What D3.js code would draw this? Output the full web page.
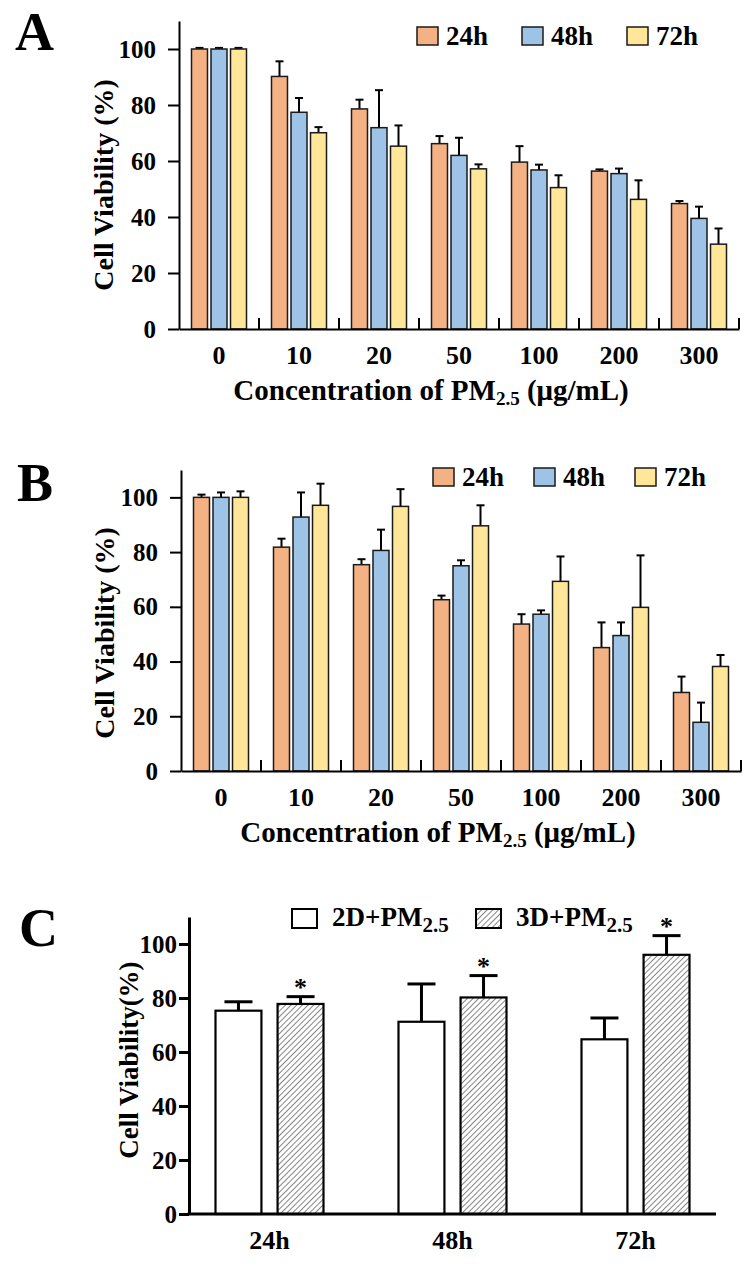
<!DOCTYPE html>
<html>
<head>
<meta charset="utf-8">
<script src="https://cdn.jsdelivr.net/npm/d3@7"></script>
<style>
  body { margin: 0; background: #fff; }
  svg text { font-family: "Liberation Serif", "Times New Roman", serif; font-weight: bold; fill: #000; }
</style>
</head>
<body>
<svg id="fig" width="750" height="1267"></svg>
<script>
// categories
var concentrations = ["0", "10", "20", "50", "100", "200", "300"];
var timepoints = ["24h", "48h", "72h"];
var cultures = ["2D", "3D"];
var yTicks = [0, 20, 40, 60, 80, 100];

// panel A: means and upper SD
var a24 = [100, 90.2, 78.6, 66.2, 59.6, 56.4, 44.8];
var a48 = [100, 77.4, 71.9, 62.0, 56.8, 55.5, 39.5];
var a72 = [100, 70.1, 65.3, 57.2, 50.5, 46.3, 30.3];
var a24err = [0.4, 5.4, 3.3, 2.7, 5.7, 0.6, 0.9];
var a48err = [0.4, 5.1, 13.4, 6.3, 1.9, 1.8, 4.2];
var a72err = [0.4, 2.0, 7.4, 1.6, 4.4, 6.8, 5.6];

// panel B
var b24 = [100, 81.8, 75.4, 62.6, 53.7, 45.1, 28.7];
var b48 = [100, 92.8, 80.6, 75.0, 57.3, 49.5, 17.8];
var b72 = [100, 97.1, 96.7, 89.6, 69.3, 59.8, 38.2];
var b24err = [1.0, 3.1, 2.0, 1.5, 3.6, 9.2, 5.8];
var b48err = [1.8, 9.0, 7.6, 2.0, 1.4, 4.8, 7.2];
var b72err = [2.2, 7.9, 6.3, 7.5, 9.1, 19.0, 4.2];

// panel C
var c2D = [75.3, 71.2, 64.7];
var c3D = [77.8, 80.2, 96.0];
var c2Derr = [3.3, 14.0, 7.9];
var c3Derr = [2.7, 8.1, 7.1];
var cSignif = [true, true, true];

var colors = { "24h": "#F4B183", "48h": "#9DC3E6", "72h": "#FFE699" };

var svg = d3.select("#fig");

var defs = svg.append("defs");
var hatch = defs.append("pattern")
  .attr("id", "hatch")
  .attr("patternUnits", "userSpaceOnUse")
  .attr("width", 4).attr("height", 4)
  .attr("patternTransform", "rotate(45)");
hatch.append("rect").attr("width", 4).attr("height", 4).attr("fill", "#fff");
hatch.append("line")
  .attr("x1", 0).attr("y1", 0).attr("x2", 0).attr("y2", 4)
  .attr("stroke", "#444").attr("stroke-width", 1.3);

function styleAxis(sel, width, fontSize) {
  sel.selectAll("path, line").attr("stroke", "#000").attr("stroke-width", width);
  sel.selectAll("text").style("font-size", fontSize + "px").attr("fill", "#000");
}

function groupedPanel(o) {
  var g = svg.append("g");
  var x = d3.scaleBand().domain(concentrations).range([o.x0, o.x1]);
  var xs = d3.scaleBand().domain(timepoints)
    .range([x.bandwidth() / 2 - 27.5, x.bandwidth() / 2 + 27.5])
    .paddingInner(0.18);
  var y = d3.scaleLinear().domain([0, 110]).range([o.base, o.top]);

  var rows = [];
  concentrations.forEach(function(c, i) {
    timepoints.forEach(function(t, j) {
      rows.push({ c: c, t: t, v: o.means[j][i], e: o.errs[j][i] });
    });
  });

  // error bars
  var eb = g.selectAll(".err").data(rows).enter().append("g")
    .attr("transform", function(d) { return "translate(" + (x(d.c) + xs(d.t) + xs.bandwidth() / 2) + ",0)"; });
  eb.append("line")
    .attr("y1", function(d) { return y(d.v); })
    .attr("y2", function(d) { return y(d.v + d.e); })
    .attr("stroke", "#000").attr("stroke-width", 2);
  eb.append("line")
    .attr("x1", -4).attr("x2", 4)
    .attr("y1", function(d) { return y(d.v + d.e); })
    .attr("y2", function(d) { return y(d.v + d.e); })
    .attr("stroke", "#000").attr("stroke-width", 2);

  g.selectAll(".bar").data(rows).enter().append("rect")
    .attr("x", function(d) { return x(d.c) + xs(d.t); })
    .attr("y", function(d) { return y(d.v); })
    .attr("width", xs.bandwidth())
    .attr("height", function(d) { return y(0) - y(d.v); })
    .attr("fill", function(d) { return colors[d.t]; })
    .attr("stroke", "#1a1a1a").attr("stroke-width", 1.5);

  // axes
  var ya = g.append("g").attr("transform", "translate(" + o.x0 + ",0)")
    .call(d3.axisLeft(y).tickValues(yTicks).tickSize(11).tickSizeOuter(0).tickPadding(12));
  styleAxis(ya, 2, 25);

  var xa = g.append("g").attr("transform", "translate(0," + o.base + ")")
    .call(d3.axisBottom(x).tickSize(0).tickSizeOuter(0).tickPadding(17));
  styleAxis(xa, 2, 26);

  g.selectAll(".sep").data(concentrations).enter().append("line")
    .attr("x1", function(d) { return x(d) + x.bandwidth(); })
    .attr("x2", function(d) { return x(d) + x.bandwidth(); })
    .attr("y1", o.base).attr("y2", o.base - 11)
    .attr("stroke", "#000").attr("stroke-width", 2);

  // y title
  g.append("text")
    .attr("transform", "translate(" + o.ytX + "," + o.ytY + ") rotate(-90)")
    .attr("text-anchor", "middle")
    .style("font-size", "28px")
    .text("Cell Viability (%)");

  // x title
  var xt = g.append("text")
    .attr("x", o.xtX).attr("y", o.base + 71)
    .attr("text-anchor", "middle")
    .style("font-size", "29px");
  xt.append("tspan").text("Concentration of PM");
  xt.append("tspan").attr("dy", 5).style("font-size", "19px").text("2.5");
  xt.append("tspan").attr("dy", -5).text(" (\u03bcg/mL)");

  // legend
  var lg = g.selectAll(".lg").data(timepoints).enter().append("g")
    .attr("transform", function(d, i) { return "translate(" + o.legX[i] + "," + o.legY + ")"; });
  lg.append("rect").attr("width", 21).attr("height", 18)
    .attr("fill", function(d) { return colors[d]; })
    .attr("stroke", "#1a1a1a").attr("stroke-width", 1.5);
  lg.append("text").attr("x", 29).attr("y", 18)
    .style("font-size", "27px")
    .text(function(d) { return d; });

  svg.append("text").attr("x", o.letterX).attr("y", o.letterY)
    .style("font-size", "54px").text(o.letter);
}

groupedPanel({
  letter: "A", letterX: 15, letterY: 50,
  x0: 179, x1: 739, base: 329, top: 21,
  means: [a24, a48, a72], errs: [a24err, a48err, a72err],
  ytX: 113, ytY: 185, xtX: 431,
  legX: [417, 522, 627], legY: 27
});

groupedPanel({
  letter: "B", letterX: 17, letterY: 501,
  x0: 181, x1: 741, base: 771, top: 470,
  means: [b24, b48, b72], errs: [b24err, b48err, b72err],
  ytX: 114, ytY: 633, xtX: 438,
  legX: [433, 534, 635], legY: 468
});

// panel C
(function() {
  var g = svg.append("g");
  var base = 1214, top = 917, axisX = 189;
  var x = d3.scaleBand().domain(timepoints).range([178, 727]);
  var xs = d3.scaleBand().domain(cultures)
    .range([x.bandwidth() / 2 - 54, x.bandwidth() / 2 + 54])
    .paddingInner(0.26);
  var y = d3.scaleLinear().domain([0, 110]).range([base, top]);

  var rows = [];
  timepoints.forEach(function(t, i) {
    rows.push({ t: t, k: "2D", v: c2D[i], e: c2Derr[i], s: false });
    rows.push({ t: t, k: "3D", v: c3D[i], e: c3Derr[i], s: cSignif[i] });
  });
  function cx(d) { return x(d.t) + xs(d.k) + xs.bandwidth() / 2; }

  var eb = g.selectAll(".err").data(rows).enter().append("g")
    .attr("transform", function(d) { return "translate(" + cx(d) + ",0)"; });
  eb.append("line")
    .attr("y1", function(d) { return y(d.v); })
    .attr("y2", function(d) { return y(d.v + d.e); })
    .attr("stroke", "#000").attr("stroke-width", 3);
  eb.append("line")
    .attr("x1", -14).attr("x2", 14)
    .attr("y1", function(d) { return y(d.v + d.e); })
    .attr("y2", function(d) { return y(d.v + d.e); })
    .attr("stroke", "#000").attr("stroke-width", 3);

  g.selectAll(".bar").data(rows).enter().append("rect")
    .attr("x", function(d) { return x(d.t) + xs(d.k); })
    .attr("y", function(d) { return y(d.v); })
    .attr("width", xs.bandwidth())
    .attr("height", function(d) { return y(0) - y(d.v); })
    .attr("fill", function(d) { return d.k === "2D" ? "#fff" : "url(#hatch)"; })
    .attr("stroke", "#000").attr("stroke-width", 2.2);

  g.selectAll(".star").data(rows.filter(function(d) { return d.s; })).enter().append("text")
    .attr("x", cx)
    .attr("y", function(d) { return y(d.v + d.e) - 1; })
    .attr("text-anchor", "middle")
    .style("font-size", "26px")
    .text("*");

  var ya = g.append("g").attr("transform", "translate(" + axisX + ",0)")
    .call(d3.axisLeft(y).tickValues(yTicks).tickSize(10).tickSizeOuter(0).tickPadding(2));
  styleAxis(ya, 3, 25);

  g.append("line").attr("x1", axisX - 1.5).attr("x2", 716)
    .attr("y1", base).attr("y2", base)
    .attr("stroke", "#000").attr("stroke-width", 3);

  var xa = g.append("g").attr("transform", "translate(0," + base + ")")
    .call(d3.axisBottom(x).tickSize(0).tickSizeOuter(0).tickPadding(17));
  xa.select(".domain").remove();
  styleAxis(xa, 3, 26);

  g.append("text")
    .attr("transform", "translate(138,1060) rotate(-90)")
    .attr("text-anchor", "middle")
    .style("font-size", "27px")
    .text("Cell Viability(%)");

  var legX = [292, 476];
  var lg = g.selectAll(".lg").data(cultures).enter().append("g")
    .attr("transform", function(d, i) { return "translate(" + legX[i] + ",909)"; });
  lg.append("rect").attr("width", 25).attr("height", 19)
    .attr("fill", function(d) { return d === "2D" ? "#fff" : "url(#hatch)"; })
    .attr("stroke", "#000").attr("stroke-width", 2);
  var lt = lg.append("text").attr("x", 40).attr("y", 17).style("font-size", "27px");
  lt.append("tspan").text(function(d) { return d + "+PM"; });
  lt.append("tspan").attr("dy", 6).style("font-size", "21px").text("2.5");

  svg.append("text").attr("x", 19).attr("y", 946)
    .style("font-size", "54px").text("C");
})();
</script>
</body>
</html>
